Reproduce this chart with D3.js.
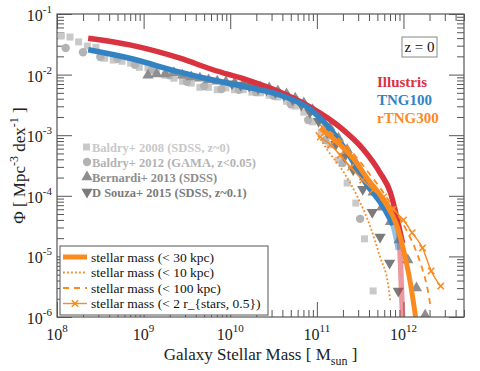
<!DOCTYPE html>
<html>
<head>
<meta charset="utf-8">
<script src="https://cdn.jsdelivr.net/npm/d3@7"></script>
<style>
  body { margin: 0; background: #fff; }
  svg text { font-family: "Liberation Serif", "DejaVu Serif", serif; }
</style>
</head>
<body>
<div id="chart"></div>
<script>
// simulations: [log10 M*, log10 Phi]
const illustris = [[8.36, -1.40], [8.84, -1.51], [9.42, -1.73], [9.80, -1.92], [10.20, -2.09], [10.58, -2.29],
    [10.93, -2.54], [11.27, -2.87], [11.54, -3.24], [11.73, -3.62], [11.85, -3.95], [11.93, -4.40], [11.99, -4.78]];
const illustrisTail = [[11.93, -4.40], [11.965, -5.06], [11.977, -5.55], [11.99, -6.0]];

const tng100 = [[8.36, -1.59], [8.84, -1.73], [9.42, -1.96], [9.80, -2.09], [10.20, -2.21], [10.58, -2.34],
    [10.93, -2.58], [11.16, -2.91], [11.35, -3.28], [11.58, -3.82], [11.77, -4.19], [11.88, -4.48]];
const tng100Tail = [[11.88, -4.48], [11.92, -4.73], [11.94, -4.89]];

const rtng30 = [[11.04, -2.88], [11.27, -3.16], [11.45, -3.44], [11.58, -3.71], [11.77, -4.07], [11.93, -4.52],
    [12.0, -4.89], [12.08, -5.44], [12.14, -6.0]];
const rtng10 = [[10.99, -2.95], [11.12, -3.24], [11.31, -3.61], [11.47, -4.02], [11.62, -4.52], [11.73, -5.01],
    [11.82, -5.44], [11.85, -5.75]];
const rtng100 = [[11.04, -2.83], [11.33, -3.16], [11.62, -3.66], [11.85, -4.12], [12.02, -4.53], [12.14, -4.89],
    [12.22, -5.22], [12.28, -5.55], [12.31, -5.80]];
const rtngHalf = [[11.04, -3.03], [11.16, -3.16], [11.27, -3.33], [11.39, -3.53], [11.53, -3.74], [11.65, -3.90],
    [11.77, -4.02], [11.88, -4.22], [12.0, -4.40], [12.10, -4.61], [12.22, -4.86], [12.32, -5.24], [12.43, -5.49]];

// observations
const baldry08 = [[8.05, -1.36], [8.15, -1.38], [8.25, -1.46], [8.35, -1.53], [8.45, -1.55], [8.55, -1.73],
    [8.65, -1.76], [8.75, -1.78], [8.85, -1.81], [8.95, -1.88], [9.05, -1.89], [9.15, -1.94], [9.25, -2.01],
    [9.35, -2.06], [9.45, -2.11], [9.55, -2.14], [9.65, -2.21], [9.75, -2.21], [9.85, -2.25], [9.95, -2.22],
    [10.05, -2.25], [10.15, -2.25], [10.25, -2.29], [10.35, -2.30], [10.45, -2.34], [10.55, -2.37],
    [10.65, -2.44], [10.75, -2.52], [10.85, -2.62], [10.95, -2.78], [11.05, -2.95], [11.15, -3.16],
    [11.25, -3.41], [11.35, -3.79], [11.45, -4.12], [11.55, -4.71], [11.65, -5.57]];
const baldry12 = [[8.1, -1.56], [8.3, -1.63], [8.5, -1.71], [8.7, -1.74], [8.9, -1.84], [9.1, -1.92],
    [9.3, -2.01], [9.5, -2.12], [9.7, -2.19], [9.9, -2.24], [10.1, -2.25], [10.3, -2.29], [10.5, -2.35],
    [10.7, -2.49], [10.9, -2.75], [11.1, -3.08], [11.3, -3.46], [11.5, -4.38]];
const bernardi13 = [[9.05, -2.01], [9.15, -1.99], [9.25, -1.99], [9.35, -1.97], [9.45, -2.01], [9.55, -2.04],
    [9.65, -2.06], [9.75, -2.09], [9.85, -2.11], [9.95, -2.12], [10.05, -2.14], [10.15, -2.16], [10.25, -2.17],
    [10.35, -2.21], [10.45, -2.22], [10.55, -2.27], [10.65, -2.32], [10.75, -2.39], [10.85, -2.47],
    [10.95, -2.58], [11.05, -2.72], [11.15, -2.87], [11.25, -3.05], [11.35, -3.24], [11.45, -3.46],
    [11.55, -3.69], [11.65, -3.94], [11.75, -4.19], [11.85, -4.43], [11.95, -4.73], [12.05, -5.06],
    [12.15, -5.52], [12.25, -5.97]];
const dsouza15 = [[10.02, -2.15], [10.12, -2.17], [10.22, -2.19], [10.32, -2.22], [10.42, -2.25], [10.52, -2.29],
    [10.62, -2.34], [10.72, -2.41], [10.82, -2.50], [10.92, -2.62], [11.02, -2.77], [11.12, -2.95],
    [11.22, -3.15], [11.32, -3.35], [11.42, -3.57], [11.53, -3.89], [11.64, -4.27], [11.73, -4.68],
    [11.84, -5.11], [11.94, -5.57]];

const xMajor = [1e8, 1e9, 1e10, 1e11, 1e12];
const xLabels = ["8", "9", "10", "11", "12"];
const yMajor = [1e-6, 1e-5, 1e-4, 1e-3, 1e-2, 1e-1];
const yLabels = ["-6", "-5", "-4", "-3", "-2", "-1"];

const simNames = ["Illustris", "TNG100", "rTNG300"];
const obsNames = ["Baldry+ 2008 (SDSS, z~0)", "Baldry+ 2012 (GAMA, z<0.05)", "Bernardi+ 2013 (SDSS)", "D Souza+ 2015 (SDSS, z~0.1)"];
const apNames = ["stellar mass (< 30 kpc)", "stellar mass (< 10 kpc)", "stellar mass (< 100 kpc)", "stellar mass (< 2 r_{stars, 0.5})"];

const red = "#d8333f", blue = "#3383c4", orange = "#fb8a1f";
const axisCol = "#555";

var margin = { top: 14, right: 16, bottom: 54, left: 57 },
    width = 480 - margin.left - margin.right,
    height = 371 - margin.top - margin.bottom;

const svgRoot = d3.select("#chart").append("svg")
    .attr("width", 480).attr("height", 371);
const svg = svgRoot.append("g")
    .attr("transform", "translate(" + margin.left + "," + margin.top + ")");

var x = d3.scaleLog().domain([1e8, 5e12]).range([0, width]);
var y = d3.scaleLog().domain([1e-6, 1e-1]).range([height, 0]);

// minor ticks
let xMinor = [];
for (let e = 8; e <= 12; e++) for (let k = 2; k <= 9; k++) {
    const v = k * Math.pow(10, e);
    if (v <= 5e12) xMinor.push(v);
}
let yMinor = [];
for (let e = -6; e < -1; e++) for (let k = 2; k <= 9; k++) yMinor.push(k * Math.pow(10, e));

function styleAxis(g) {
    g.select(".domain").remove();
    g.selectAll("line").attr("stroke", axisCol);
    g.selectAll("text").remove();
}

svg.append("g").attr("transform", "translate(0," + height + ")")
    .call(d3.axisBottom(x).tickValues(xMajor).tickSize(-15)).call(styleAxis);
svg.append("g").attr("transform", "translate(0," + height + ")")
    .call(d3.axisBottom(x).tickValues(xMinor).tickSize(-7)).call(styleAxis);
svg.append("g")
    .call(d3.axisTop(x).tickValues(xMajor).tickSize(-15)).call(styleAxis);
svg.append("g")
    .call(d3.axisTop(x).tickValues(xMinor).tickSize(-7)).call(styleAxis);
svg.append("g")
    .call(d3.axisLeft(y).tickValues(yMajor).tickSize(-15)).call(styleAxis);
svg.append("g")
    .call(d3.axisLeft(y).tickValues(yMinor).tickSize(-7)).call(styleAxis);
svg.append("g").attr("transform", "translate(" + width + ",0)")
    .call(d3.axisRight(y).tickValues(yMajor).tickSize(-15)).call(styleAxis);
svg.append("g").attr("transform", "translate(" + width + ",0)")
    .call(d3.axisRight(y).tickValues(yMinor).tickSize(-7)).call(styleAxis);

// tick labels
xMajor.forEach(function(v, i) {
    const t = svg.append("text")
        .attr("x", x(v)).attr("y", height + 23)
        .attr("text-anchor", "middle")
        .attr("font-size", 16).attr("fill", "#222");
    t.append("tspan").text("10");
    t.append("tspan").attr("dy", -8).attr("font-size", 11).text(xLabels[i]);
});
yMajor.forEach(function(v, i) {
    const t = svg.append("text")
        .attr("x", -5).attr("y", y(v) + 7)
        .attr("text-anchor", "end")
        .attr("font-size", 16).attr("fill", "#222");
    t.append("tspan").text("10");
    t.append("tspan").attr("dy", -8).attr("font-size", 11).text(yLabels[i]);
});

// axis titles
const xt = svgRoot.append("text")
    .attr("x", margin.left + width / 2).attr("y", 360)
    .attr("text-anchor", "middle").attr("font-size", 17).attr("fill", "#222");
xt.append("tspan").text("Galaxy Stellar Mass [ M");
xt.append("tspan").attr("dy", 5).attr("font-size", 12).text("sun");
xt.append("tspan").attr("dy", -5).text(" ]");

const yt = svgRoot.append("text")
    .attr("transform", "translate(25," + (margin.top + height / 2) + ") rotate(-90)")
    .attr("text-anchor", "middle").attr("font-size", 17).attr("fill", "#222");
yt.append("tspan").text("\u03A6 [ Mpc");
yt.append("tspan").attr("dy", -7).attr("font-size", 12).text("-3");
yt.append("tspan").attr("dy", 7).text(" dex");
yt.append("tspan").attr("dy", -7).attr("font-size", 12).text("-1");
yt.append("tspan").attr("dy", 7).text(" ]");

const plot = svg.append("g");
plot.append("clipPath").attr("id", "clip").append("rect").attr("width", width).attr("height", height);
plot.attr("clip-path", "url(#clip)");

function px(d) { return x(Math.pow(10, d[0])); }
function py(d) { return y(Math.pow(10, d[1])); }

// observations
plot.selectAll(".b08").data(baldry08).enter().append("rect")
    .attr("x", d => px(d) - 3.5).attr("y", d => py(d) - 3.5)
    .attr("width", 7).attr("height", 7).attr("fill", "#c9c9c9");
plot.selectAll(".b12").data(baldry12).enter().append("circle")
    .attr("cx", px).attr("cy", py).attr("r", 4.2).attr("fill", "#b3b3b3");
const triUp = d3.symbol().type(d3.symbolTriangle).size(55);
plot.selectAll(".b13").data(bernardi13).enter().append("path")
    .attr("d", triUp).attr("transform", d => "translate(" + px(d) + "," + py(d) + ")")
    .attr("fill", "#8e8e8e");
plot.selectAll(".d15").data(dsouza15).enter().append("path")
    .attr("d", triUp).attr("transform", d => "translate(" + px(d) + "," + py(d) + ") rotate(180)")
    .attr("fill", "#7b7b7b");

const line = d3.line().x(px).y(py).curve(d3.curveMonotoneX);

plot.append("path").datum(illustrisTail).attr("d", line)
    .attr("fill", "none").attr("stroke", red).attr("stroke-opacity", 0.5).attr("stroke-width", 5.5);
plot.append("path").datum(illustris).attr("d", line)
    .attr("fill", "none").attr("stroke", red).attr("stroke-width", 5.5);
plot.append("path").datum(tng100Tail).attr("d", line)
    .attr("fill", "none").attr("stroke", blue).attr("stroke-opacity", 0.5).attr("stroke-width", 5.5);
plot.append("path").datum(tng100).attr("d", line)
    .attr("fill", "none").attr("stroke", blue).attr("stroke-width", 5.5);

plot.append("path").datum(rtng10).attr("d", line)
    .attr("fill", "none").attr("stroke", orange).attr("stroke-width", 1.8).attr("stroke-dasharray", "1.8,2.2");
plot.append("path").datum(rtng100).attr("d", line)
    .attr("fill", "none").attr("stroke", orange).attr("stroke-width", 1.8).attr("stroke-dasharray", "6,5");
plot.append("path").datum(rtngHalf).attr("d", line)
    .attr("fill", "none").attr("stroke", orange).attr("stroke-width", 1.4);
const xMark = "M-3.2,-3.2L3.2,3.2M-3.2,3.2L3.2,-3.2";
plot.selectAll(".half").data(rtngHalf).enter().append("path")
    .attr("d", xMark).attr("transform", d => "translate(" + px(d) + "," + py(d) + ")")
    .attr("fill", "none").attr("stroke", orange).attr("stroke-width", 1.5);
plot.append("path").datum(rtng30).attr("d", line)
    .attr("fill", "none").attr("stroke", orange).attr("stroke-width", 5);

// frame
svg.append("rect").attr("width", width).attr("height", height)
    .attr("fill", "none").attr("stroke", axisCol).attr("stroke-width", 1.2);

// z = 0 box
svg.append("rect").attr("x", 345).attr("y", 23).attr("width", 35).attr("height", 20)
    .attr("fill", "#fff").attr("stroke", "#888");
svg.append("text").attr("x", 362.5).attr("y", 38).attr("text-anchor", "middle")
    .attr("font-size", 15).attr("fill", "#111").text("z = 0");

// simulation names
[red, blue, orange].forEach(function(c, i) {
    svg.append("text").attr("x", 320).attr("y", 73 + i * 18)
        .attr("font-size", 15).attr("font-weight", "bold").attr("fill", c).text(simNames[i]);
});

// observation legend
const obsCol = ["#c9c9c9", "#b3b3b3", "#8e8e8e", "#7b7b7b"];
obsNames.forEach(function(n, i) {
    const cy = 133 + i * 15;
    if (i === 0) svg.append("rect").attr("x", 26).attr("y", cy - 3.5).attr("width", 7).attr("height", 7).attr("fill", obsCol[0]);
    if (i === 1) svg.append("circle").attr("cx", 30).attr("cy", cy).attr("r", 4.2).attr("fill", obsCol[1]);
    if (i === 2) svg.append("path").attr("d", triUp).attr("transform", "translate(30," + cy + ")").attr("fill", obsCol[2]);
    if (i === 3) svg.append("path").attr("d", triUp).attr("transform", "translate(30," + cy + ") rotate(180)").attr("fill", obsCol[3]);
    svg.append("text").attr("x", 35).attr("y", cy + 4.5)
        .attr("font-size", 12.5).attr("font-weight", "bold").attr("fill", obsCol[i]).text(n);
});

// aperture legend
const lg = svg.append("g").attr("transform", "translate(3,232)");
lg.append("rect").attr("width", 208).attr("height", 69)
    .attr("fill", "#fff").attr("stroke", axisCol).attr("stroke-width", 1);
const styles = [
    { w: 5, dash: null },
    { w: 1.8, dash: "1.8,2.2" },
    { w: 1.8, dash: "6,5" },
    { w: 1.4, dash: null }
];
apNames.forEach(function(n, i) {
    const cy = 11 + i * 15.5;
    const l = lg.append("line").attr("x1", 3).attr("x2", 27).attr("y1", cy).attr("y2", cy)
        .attr("stroke", orange).attr("stroke-width", styles[i].w);
    if (styles[i].dash) l.attr("stroke-dasharray", styles[i].dash);
    if (i === 3) lg.append("path").attr("d", xMark).attr("transform", "translate(15," + cy + ")")
        .attr("fill", "none").attr("stroke", orange).attr("stroke-width", 1.5);
    lg.append("text").attr("x", 31).attr("y", cy + 4.5)
        .attr("font-size", 13.5).attr("fill", "#111").text(n);
});
</script>
</body>
</html>
